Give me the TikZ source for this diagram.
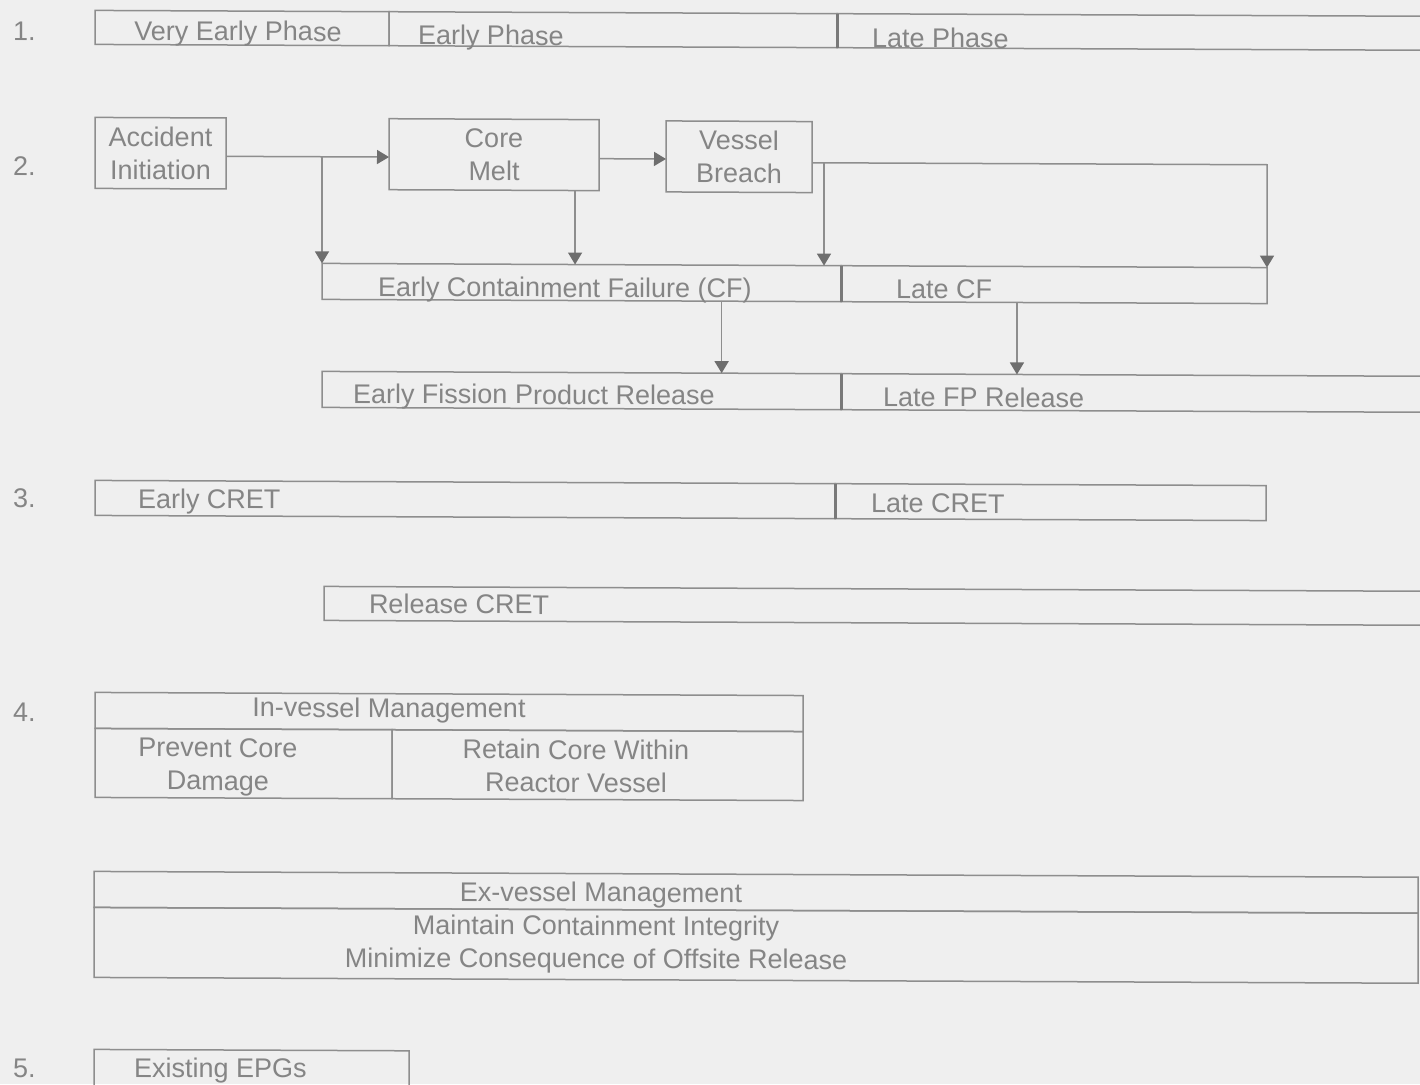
\documentclass[tikz,border=0pt]{standalone}
\usepackage{fontspec}
\setmainfont{Liberation Sans}
\usetikzlibrary{arrows.meta,calc}
\definecolor{paper}{HTML}{EFEFEF}
\definecolor{rule}{HTML}{8E8E8E}
\definecolor{ink}{HTML}{858585}
\definecolor{tip}{HTML}{6E6E6E}
\newcommand{\labelfont}{\fontsize{27}{33}\selectfont}
\tikzset{
  cell/.style={draw=rule, line width=1.5pt, inner sep=0pt, outer sep=0pt,
    anchor=north west, text=ink, align=center, font=\labelfont},
  lbl/.style={text=ink, inner sep=0pt, outer sep=0pt, font=\labelfont,
    text height=19.3pt, text depth=0pt},
  blocklbl/.style={text=ink, inner sep=0pt, outer sep=0pt, font=\labelfont, align=center},
  divider/.style={draw=rule!85!black, line width=3pt},
  link/.style={draw=rule, line width=1.5pt},
  arr/.style={link, -{Triangle[width=14pt,length=12pt,color=tip]}},
}
\begin{document}
\begin{tikzpicture}[x=1pt,y=-1pt]
\useasboundingbox (0,0) rectangle (1420,1084);
\fill[paper] (0,0) rectangle (1420,1084);
\clip (0,0) rectangle (1420,1084);
\begin{scope}[yslant=-0.0044, transform shape]

% ---- 1. phases
\node[lbl, anchor=west] (n1) at (13,31) {1.};
\node[cell, minimum width=294pt, minimum height=34pt] (vep) at (95,10) {};
\node[cell, minimum width=448pt, minimum height=34pt] (ep)  at (389,10) {};
\node[cell, minimum width=640pt, minimum height=34pt] (lp)  at (837,10) {};
\draw[divider] (lp.north west) -- (lp.south west);
\node[lbl] (tvep) at (238,30) {Very Early Phase};
\node[lbl, anchor=west] (tep) at (418,33) {Early Phase};
\node[lbl, anchor=west] (tlp) at (872,34) {Late Phase};

% ---- 2. accident progression
\node[lbl, anchor=west] (n2) at (13,166) {2.};
\node[cell, minimum width=131pt, minimum height=71pt] (ai) at (95,117) {Accident\\Initiation};
\node[cell, minimum width=210pt, minimum height=71pt] (cm) at (389,117) {Core\\Melt};
\node[cell, minimum width=146pt, minimum height=71pt] (vb) at (666,118) {Vessel\\Breach};

\node[cell, minimum width=519pt, minimum height=36pt] (ecf) at (322,262) {};
\node[cell, minimum width=426pt, minimum height=36pt] (lcf) at (841,262) {};
\draw[divider] (lcf.north west) -- (lcf.south west);
\node[lbl, anchor=west] (tecf) at (378,285) {Early Containment Failure (CF)};
\node[lbl, anchor=west] (tlcf) at (896,285) {Late CF};

\node[cell, minimum width=519pt, minimum height=36pt] (efp) at (322,370) {};
\node[cell, minimum width=640pt, minimum height=36pt] (lfp) at (841,370) {};
\draw[divider] (lfp.north west) -- (lfp.south west);
\node[lbl, anchor=west] (tefp) at (353,392) {Early Fission Product Release};
\node[lbl, anchor=west] (tlfp) at (883,393) {Late FP Release};

% connectors
\coordinate (aiout) at ($(ai.north east)!0.54!(ai.south east)$);
\draw[arr] (aiout) -- (aiout -| cm.west);
\draw[arr] (aiout -| ecf.north west) -- (ecf.north west);
\coordinate (cmout) at ($(cm.north east)!0.55!(cm.south east)$);
\draw[arr] (cmout) -- (cmout -| vb.west);
\coordinate (cmfoot) at ($(cm.south west)!0.886!(cm.south east)$);
\draw[arr] (cmfoot) -- (cmfoot |- ecf.north);
\coordinate (vbout) at ($(vb.north east)!0.58!(vb.south east)$);
\coordinate (vbturn) at ($(vbout)+(455,0)$);
\draw[arr] (vbout) -- (vbturn) -- (vbturn |- lcf.north east);
\coordinate (vbdrop) at ($(vbout)+(12,0)$);
\draw[arr] (vbdrop) -- (vbdrop |- ecf.north east);
\coordinate (cfout) at ($(ecf.south west)!0.770!(ecf.south east)$);
\draw[arr] (cfout) -- (cfout |- efp.north);
\coordinate (lcfout) at ($(lcf.south west)!0.413!(lcf.south east)$);
\draw[arr] (lcfout) -- (lcfout |- lfp.north);

% ---- 3. containment response evaluation trees
\node[lbl, anchor=west] (n3) at (13,498) {3.};
\node[cell, minimum width=740pt, minimum height=35pt] (ecret) at (95,480) {};
\node[cell, minimum width=431pt, minimum height=35pt] (lcret) at (835,480) {};
\draw[divider] (lcret.north west) -- (lcret.south west);
\node[lbl, anchor=west] (tecret) at (138,498) {Early CRET};
\node[lbl, anchor=west] (tlcret) at (871,499) {Late CRET};

\node[cell, minimum width=1140pt, minimum height=34pt] (rcret) at (324,585) {};
\node[lbl, anchor=west] (trcret) at (369,602) {Release CRET};

% ---- 4. management
\node[lbl, anchor=west] (n4) at (13,712) {4.};
\node[cell, minimum width=708pt, minimum height=36pt] (ivm) at (95,692) {};
\node[cell, minimum width=297pt, minimum height=69pt] (pcd) at (95,728) {};
\node[cell, minimum width=411pt, minimum height=69pt] (rcw) at (392,728) {};
\node[lbl] (tivm) at (389,706) {In-vessel Management};
\node[blocklbl] (tpcd) at (218,766) {Prevent Core\\Damage};
\node[blocklbl] (trcw) at (576,763.5) {Retain Core Within\\Reactor Vessel};

\node[cell, minimum width=1324pt, minimum height=36pt] (evm) at (94,871) {};
\node[cell, minimum width=1324pt, minimum height=70pt] (evb) at (94,907) {};
\node[lbl] (tevm) at (601,889.5) {Ex-vessel Management};
\node[blocklbl] (tevb) at (596,942) {Maintain Containment Integrity\\Minimize Consequence of Offsite Release};

% ---- 5. existing guidelines
\node[lbl, anchor=west] (n5) at (13,1068) {5.};
\node[cell, minimum width=315pt, minimum height=60pt] (epg) at (94,1049) {};
\node[lbl, anchor=west] (tepg) at (134,1067) {Existing EPGs};

\end{scope}
\end{tikzpicture}
\end{document}
